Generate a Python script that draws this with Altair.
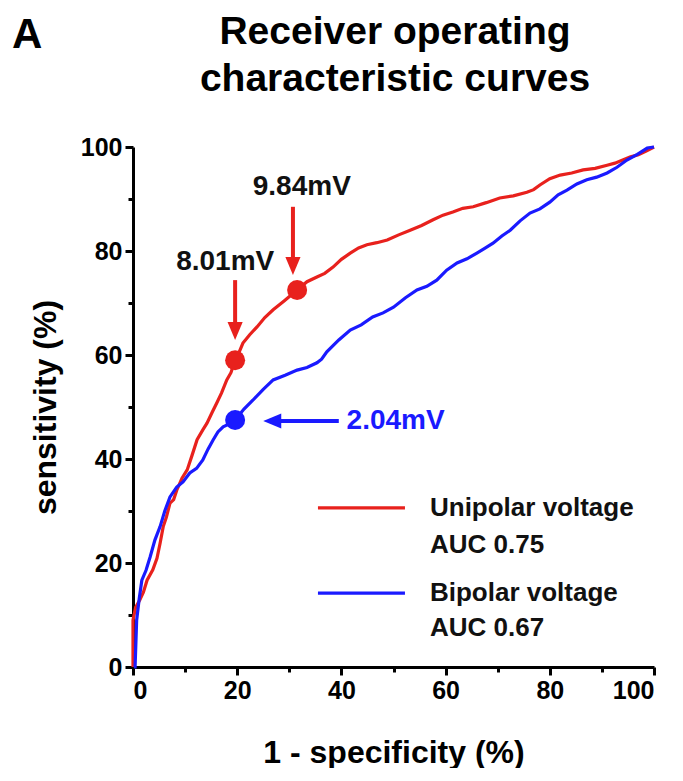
import altair as alt
import pandas as pd

# ROC curves (1 - specificity %, sensitivity %)
red_x = [0, 0, 0.5, 1.3, 2.0, 2.7, 3.8, 4.6, 5.2, 5.8, 6.4, 7.1, 7.8, 8.4, 9.4, 10.4, 11.3, 12.3, 13.4,
         14.2, 15.2, 16.1, 17.0, 18.0, 18.8, 19.6, 20.4, 21.1, 22.4, 23.8, 25.3, 26.9, 29.0, 31.5,
         33.4, 35.3, 36.8, 38.4, 40.0, 41.7, 43.3, 44.9, 46.8, 48.8, 51.0, 53.2, 55.4, 57.6, 59.5,
         61.4, 63.3, 65.3, 67.8, 70.4, 73.0, 75.6, 76.9, 78.1, 80.0, 82.0, 84.2, 86.4, 88.7, 91.0,
         92.5, 94.0, 95.5, 97.0, 98.5, 100]
red_y = [0, 9.0, 11.5, 12.9, 14.4, 16.7, 18.7, 20.9, 23.8, 27.0, 28.8, 31.5, 32.2, 34.0, 36.3, 37.9,
         40.6, 43.7, 45.6, 46.9, 49.0, 50.8, 52.7, 55.2, 56.6, 59.0, 60.6, 62.3, 63.9, 65.4, 67.2,
         68.7, 70.4, 72.5, 74.1, 75.0, 75.7, 76.9, 78.4, 79.6, 80.6, 81.2, 81.6, 82.1, 83.1, 84.0,
         84.9, 86.0, 86.9, 87.5, 88.2, 88.5, 89.3, 90.2, 90.6, 91.3, 91.8, 92.7, 93.9, 94.6, 95.0,
         95.6, 95.9, 96.5, 96.9, 97.5, 98.1, 98.5, 99.2, 100]
blue_x = [0.2, 0.4, 0.7, 1.2, 1.7, 2.5, 3.3, 4.2, 5.2, 6.1, 7.1, 8.4, 9.6, 10.9, 12.2, 13.4, 14.4,
          15.4, 16.3, 17.3, 18.4, 19.6, 21.3, 23.0, 25.0, 26.9, 29.2, 31.5, 33.4, 35.3, 36.2, 37.2,
          39.5, 41.7, 43.8, 46.0, 48.0, 50.0, 52.3, 54.5, 56.4, 58.3, 60.2, 62.2, 64.1, 66.0, 67.5,
          69.1, 70.8, 72.4, 74.3, 76.2, 78.1, 80.0, 81.6, 83.3, 85.2, 87.1, 89.0, 91.0, 92.9, 94.8,
          96.8, 98.7, 100]
blue_y = [0, 0, 9.0, 13.2, 16.7, 18.6, 21.2, 24.4, 27.0, 30.0, 32.7, 34.6, 35.6, 37.3, 38.2, 39.8,
          41.9, 43.7, 45.2, 46.2, 46.7, 47.5, 49.6, 51.3, 53.4, 55.2, 56.1, 57.1, 57.6, 58.5, 59.2,
          60.6, 62.9, 64.8, 65.8, 67.3, 68.1, 69.2, 71.0, 72.5, 73.2, 74.4, 76.3, 77.7, 78.5, 79.6,
          80.5, 81.5, 82.9, 84.0, 85.8, 87.3, 88.1, 89.4, 90.8, 91.7, 92.9, 93.7, 94.2, 95.0, 96.1,
          97.5, 98.6, 99.8, 100]

# cut-off points
dot_x = [19.6, 31.5, 19.6]
dot_y = [59.0, 72.5, 47.5]
dot_series = ["Unipolar", "Unipolar", "Bipolar"]

# threshold labels
thr_labels = ["8.01mV", "9.84mV", "2.04mV"]
thr_x = [17.7, 32.4, 41.0]
thr_y = [77.9, 92.3, 47.3]
thr_series = ["Label", "Label", "Bipolar"]
thr_align = ["center", "center", "left"]

# arrows (tail -> tip)
arr_x1 = [19.6, 30.7, 39.5]
arr_y1 = [74.4, 88.5, 47.3]
arr_x2 = [19.6, 30.7, 25.0]
arr_y2 = [62.9, 75.4, 47.3]
arr_series = ["Unipolar", "Unipolar", "Bipolar"]
arr_dir = ["down", "down", "left"]

# legend
leg_names = ["Unipolar voltage", "Bipolar voltage"]
leg_auc = ["AUC 0.75", "AUC 0.67"]
leg_series = ["Unipolar", "Bipolar"]
leg_y = [30.6, 14.2]
leg_auc_y = [23.5, 7.5]
leg_x1, leg_x2, leg_tx = 35.5, 52.2, 57.0

title_lines = ["Receiver operating", "characteristic curves"]

RED = "#e8211d"
BLUE = "#1a1aff"
FONT = "Liberation Sans"

rows = []
for i, (a, b) in enumerate(zip(red_x, red_y)):
    rows.append({"x": a, "y": b, "series": "Unipolar", "i": i})
for i, (a, b) in enumerate(zip(blue_x, blue_y)):
    rows.append({"x": a, "y": b, "series": "Bipolar", "i": i})
curves = pd.DataFrame(rows)

dots = pd.DataFrame({"x": dot_x, "y": dot_y, "series": dot_series})
labels = pd.DataFrame({"x": thr_x, "y": thr_y, "series": thr_series, "t": thr_labels, "al": thr_align})
arrows = pd.DataFrame({"x": arr_x1, "y": arr_y1, "x2": arr_x2, "y2": arr_y2,
                       "series": arr_series, "dir": arr_dir})
shaft = arrows.copy()
shaft["x2"] = [x2 + (2.5 if d == "left" else 0) for x2, d in zip(arrows["x2"], arrows["dir"])]
shaft["y2"] = [y2 + (2.5 if d == "down" else 0) for y2, d in zip(arrows["y2"], arrows["dir"])]
heads = pd.DataFrame({"x": arr_x2, "y": arr_y2, "series": arr_series, "dir": arr_dir})
legend = pd.DataFrame({"x": [leg_x1] * 2, "x2": [leg_x2] * 2, "y": leg_y, "series": leg_series})
leg_text = pd.DataFrame({"x": [leg_tx] * 4, "y": leg_y + leg_auc_y, "t": leg_names + leg_auc})

color_scale = alt.Scale(domain=["Unipolar", "Bipolar", "Label"], range=[RED, BLUE, "#111111"])
sx = alt.Scale(domain=[0, 100], nice=False, zero=True)
sy = alt.Scale(domain=[0, 100], nice=False, zero=True)

major = "datum.value % 20 == 0"
def axis(title, pad):
    return alt.Axis(
        values=list(range(0, 101, 10)),
        labelExpr="datum.value % 20 == 0 ? datum.label : ''",
        tickSize={"condition": {"test": major, "value": 8}, "value": 5},
        tickWidth=3, tickColor="black", domainWidth=3, domainColor="black",
        labelFont=FONT, labelFontSize=25, labelFontWeight="bold", labelColor="black",
        labelPadding=3, grid=False, title=title, titleFont=FONT, titleFontSize=32,
        titleFontWeight="bold", titleColor="black", titlePadding=pad,
    )

X = alt.X("x:Q", scale=sx, axis=axis("1 - specificity (%)", 34))
Y = alt.Y("y:Q", scale=sy, axis=axis("sensitivity (%)", 18))
col = alt.Color("series:N", scale=color_scale, legend=None)

lines = alt.Chart(curves).mark_line(strokeWidth=3.2).encode(
    x=X, y=Y, color=col, detail="series:N", order="i:Q")

pts = alt.Chart(dots).mark_circle(size=400, opacity=1).encode(x=X, y=Y, color=col)

shafts = alt.Chart(shaft).mark_rule(strokeWidth=4).encode(
    x=X, y=Y, x2="x2:Q", y2="y2:Q", color=col)

heads_down = alt.Chart(heads[heads["dir"] == "down"]).mark_point(
    shape="M-0.42,-1L0.42,-1L0,0Z", size=1300, filled=True, opacity=1).encode(
    x=X, y=Y, color=col)

heads_left = alt.Chart(heads[heads["dir"] == "left"]).mark_point(
    shape="M1,-0.42L1,0.42L0,0Z", size=1300, filled=True, opacity=1).encode(
    x=X, y=Y, color=col)

thr_c = alt.Chart(labels[labels["al"] == "center"]).mark_text(
    font=FONT, fontSize=28, fontWeight="bold", align="center", baseline="middle").encode(
    x=X, y=Y, text="t:N", color=col)
thr_l = alt.Chart(labels[labels["al"] == "left"]).mark_text(
    font=FONT, fontSize=28, fontWeight="bold", align="left", baseline="middle").encode(
    x=X, y=Y, text="t:N", color=col)

leg_lines = alt.Chart(legend).mark_rule(strokeWidth=3.2).encode(
    x=X, x2="x2:Q", y=Y, color=col)
leg_t = alt.Chart(leg_text).mark_text(
    font=FONT, fontSize=26, fontWeight="bold", align="left", baseline="middle", color="#111111").encode(
    x=X, y=Y, text="t:N")

panel = alt.Chart(pd.DataFrame({"t": ["A"]})).mark_text(
    font=FONT, fontSize=42, fontWeight="bold", align="left", baseline="alphabetic", color="black").encode(
    x=alt.value(-121), y=alt.value(-99), text="t:N")

ttl1 = alt.Chart(pd.DataFrame({"t": title_lines[:1]})).mark_text(
    font=FONT, fontSize=39, fontWeight="bold", align="center", baseline="alphabetic", color="black").encode(
    x=alt.value(262), y=alt.value(-103), text="t:N")
ttl2 = alt.Chart(pd.DataFrame({"t": title_lines[1:]})).mark_text(
    font=FONT, fontSize=39, fontWeight="bold", align="center", baseline="alphabetic", color="black").encode(
    x=alt.value(262), y=alt.value(-56), text="t:N")

chart = alt.layer(
    lines, pts, shafts, heads_down, heads_left, thr_c, thr_l,
    leg_lines, leg_t, panel, ttl1, ttl2
).properties(
    width=521, height=520,
    autosize=alt.AutoSizeParams(type="none"),
    padding={"left": 125, "top": 139, "right": 21, "bottom": 101},
).configure_view(stroke=None)

chart.save("out.html", embed_options={"renderer": "svg", "actions": False})
